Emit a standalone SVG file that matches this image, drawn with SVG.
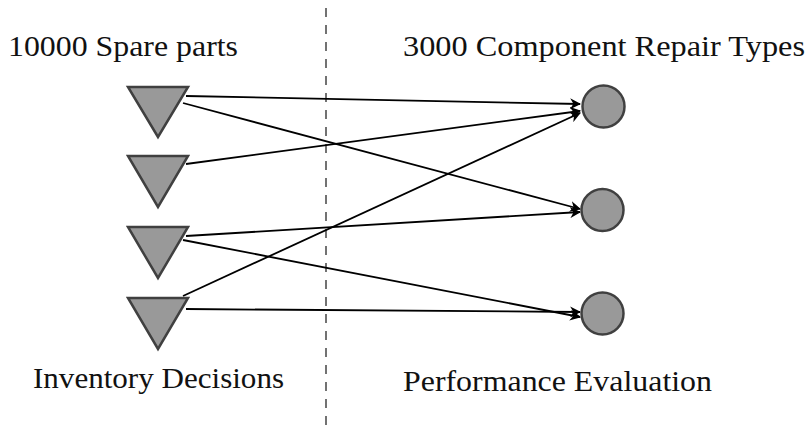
<svg xmlns="http://www.w3.org/2000/svg" width="808" height="425" viewBox="0 0 808 425">
<style>
.t{font-family:"Liberation Serif","Times New Roman",serif;font-size:30px;fill:#111}
.tri,.cir{fill:#999;stroke:#404040;stroke-width:2.5;stroke-linejoin:miter}
.e{stroke:#000;stroke-width:1.8;fill:none;marker-end:url(#ah)}
</style>
<defs>
<marker id="ah" viewBox="0 0 10 10" refX="9" refY="5" markerWidth="11" markerHeight="11" markerUnits="userSpaceOnUse" orient="auto">
<path d="M0,0 L10,5 L0,10 L3,5 Z" fill="#000"/>
</marker>
</defs>
<rect width="808" height="425" fill="#fff"/>
<line x1="326" y1="8" x2="326" y2="425" stroke="#444" stroke-width="1.5" stroke-dasharray="9,8"/>
<g id="labels">
<text class="t" x="8" y="56" textLength="230" lengthAdjust="spacingAndGlyphs">10000 Spare parts</text>
<text class="t" x="403" y="56" textLength="402" lengthAdjust="spacingAndGlyphs">3000 Component Repair Types</text>
<text class="t" x="33" y="388" textLength="251" lengthAdjust="spacingAndGlyphs">Inventory Decisions</text>
<text class="t" x="403" y="391" textLength="309" lengthAdjust="spacingAndGlyphs">Performance Evaluation</text>
</g>
<g id="connectors">
<line class="e" x1="186" y1="96" x2="580" y2="104"/>
<line class="e" x1="183" y1="103" x2="580" y2="209"/>
<line class="e" x1="186" y1="164" x2="580" y2="111"/>
<line class="e" x1="186" y1="236" x2="580" y2="212"/>
<line class="e" x1="183" y1="240" x2="580" y2="317"/>
<line class="e" x1="183" y1="296" x2="580" y2="113"/>
<line class="e" x1="186" y1="309" x2="580" y2="312"/>
</g>
<g id="t1"><polygon class="tri" points="128,87 188,87 158,137"/></g>
<g id="t2"><polygon class="tri" points="128,156 188,156 158,207"/></g>
<g id="t3"><polygon class="tri" points="128,227 188,227 158,278"/></g>
<g id="t4"><polygon class="tri" points="128,298 188,298 158,349"/></g>
<g id="c1"><circle class="cir" cx="603.5" cy="106.5" r="21"/></g>
<g id="c2"><circle class="cir" cx="602.5" cy="210" r="21"/></g>
<g id="c3"><circle class="cir" cx="602.5" cy="313.5" r="21"/></g>
</svg>
